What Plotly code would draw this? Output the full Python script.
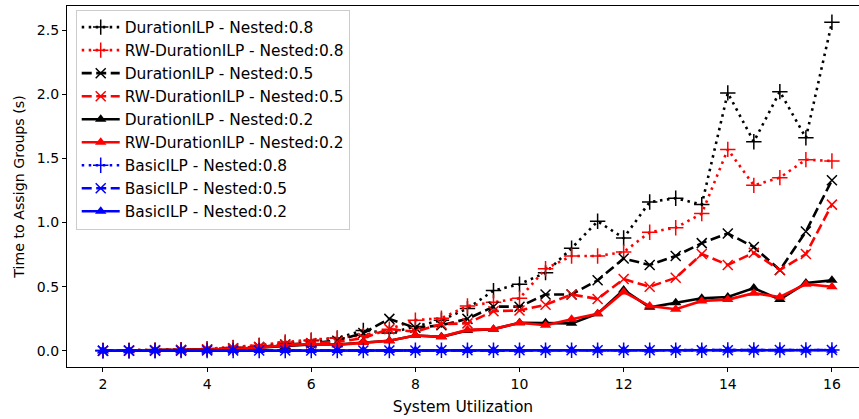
import plotly.graph_objects as go

x_vals = [2, 2.5, 3, 3.5, 4, 4.5, 5, 5.5, 6, 6.5, 7, 7.5, 8, 8.5, 9, 9.5, 10,
          10.5, 11, 11.5, 12, 12.5, 13, 13.5, 14, 14.5, 15, 15.5, 16]

dur_08 = [0.003, 0.004, 0.006, 0.010, 0.015, 0.025, 0.040, 0.060, 0.080, 0.100, 0.160, 0.140, 0.190, 0.240, 0.330,
          0.470, 0.520, 0.610, 0.800, 1.010, 0.880, 1.160, 1.190, 1.140, 2.010, 1.630, 2.020, 1.660, 2.560]
rw_08 = [0.003, 0.004, 0.006, 0.010, 0.016, 0.028, 0.045, 0.070, 0.085, 0.100, 0.120, 0.170, 0.240, 0.255, 0.350,
         0.380, 0.410, 0.640, 0.740, 0.740, 0.770, 0.925, 0.960, 1.070, 1.570, 1.290, 1.350, 1.490, 1.480]
dur_05 = [0.002, 0.003, 0.005, 0.008, 0.012, 0.020, 0.030, 0.050, 0.060, 0.080, 0.140, 0.250, 0.180, 0.200, 0.250,
          0.345, 0.345, 0.440, 0.440, 0.550, 0.720, 0.670, 0.740, 0.840, 0.915, 0.810, 0.630, 0.930, 1.330]
rw_05 = [0.002, 0.003, 0.005, 0.008, 0.012, 0.020, 0.030, 0.050, 0.060, 0.070, 0.100, 0.170, 0.150, 0.210, 0.215,
         0.310, 0.315, 0.360, 0.440, 0.405, 0.560, 0.500, 0.570, 0.755, 0.670, 0.765, 0.630, 0.755, 1.140]
dur_02 = [0.002, 0.003, 0.004, 0.006, 0.010, 0.015, 0.025, 0.035, 0.050, 0.050, 0.065, 0.080, 0.120, 0.110, 0.160,
          0.170, 0.220, 0.220, 0.215, 0.290, 0.475, 0.340, 0.376, 0.410, 0.420, 0.490, 0.400, 0.530, 0.550]
rw_02 = [0.002, 0.003, 0.004, 0.006, 0.010, 0.015, 0.030, 0.040, 0.055, 0.047, 0.065, 0.080, 0.120, 0.110, 0.164,
         0.170, 0.220, 0.200, 0.247, 0.290, 0.460, 0.350, 0.325, 0.390, 0.400, 0.450, 0.420, 0.520, 0.500]
basic_08 = [0.002, 0.002, 0.002, 0.003, 0.003, 0.003, 0.003, 0.004, 0.004, 0.004, 0.004, 0.004, 0.005, 0.005, 0.005,
            0.005, 0.005, 0.005, 0.006, 0.006, 0.006, 0.006, 0.006, 0.006, 0.007, 0.007, 0.007, 0.007, 0.008]
basic_05 = [0.002, 0.002, 0.002, 0.002, 0.003, 0.003, 0.003, 0.003, 0.004, 0.004, 0.004, 0.004, 0.004, 0.005, 0.005,
            0.005, 0.005, 0.005, 0.005, 0.006, 0.006, 0.006, 0.006, 0.006, 0.006, 0.007, 0.007, 0.007, 0.007]
basic_02 = [0.002, 0.002, 0.002, 0.002, 0.002, 0.003, 0.003, 0.003, 0.003, 0.003, 0.004, 0.004, 0.004, 0.004, 0.004,
            0.004, 0.005, 0.005, 0.005, 0.005, 0.005, 0.005, 0.005, 0.006, 0.006, 0.006, 0.006, 0.006, 0.006]

series_names = [
    "DurationILP - Nested:0.8", "RW-DurationILP - Nested:0.8",
    "DurationILP - Nested:0.5", "RW-DurationILP - Nested:0.5",
    "DurationILP - Nested:0.2", "RW-DurationILP - Nested:0.2",
    "BasicILP - Nested:0.8", "BasicILP - Nested:0.5", "BasicILP - Nested:0.2",
]
series_values = [dur_08, rw_08, dur_05, rw_05, dur_02, rw_02, basic_08, basic_05, basic_02]

DOT = "2.5px,4.5px"
DASH = "10px,4.5px"
styles = [
    ("black", DOT, "cross-thin"),
    ("red", DOT, "cross-thin"),
    ("black", DASH, "x-thin"),
    ("red", DASH, "x-thin"),
    ("black", "solid", "triangle-up"),
    ("red", "solid", "triangle-up"),
    ("blue", DOT, "cross-thin"),
    ("blue", DASH, "x-thin"),
    ("blue", "solid", "triangle-up"),
]

fig = go.Figure()
for i, (name, vals, (col, dash, sym)) in enumerate(zip(series_names, series_values, styles)):
    if sym == "triangle-up":
        marker = dict(symbol=sym, size=10, color=col, line=dict(width=0))
    elif sym == "cross-thin":
        marker = dict(symbol=sym, size=11, color=col, line=dict(width=1.5, color=col))
    else:
        marker = dict(symbol=sym, size=10, color=col, line=dict(width=1.5, color=col))
    fig.add_trace(go.Scatter(
        x=x_vals, y=vals, name=name, mode="lines+markers",
        line=dict(color=col, width=2.6, dash=dash),
        marker=marker, legendgroup=f"g{i}",
    ))

fig.update_layout(
    width=859, height=419,
    margin=dict(l=67, r=0, t=6, b=52),
    paper_bgcolor="white", plot_bgcolor="white",
    font=dict(family="DejaVu Sans", size=14, color="black"),
    showlegend=True,
    legend=dict(
        x=0.011, y=0.99, xanchor="left", yanchor="top",
        bgcolor="rgba(255,255,255,0.85)", bordercolor="#cccccc", borderwidth=1,
        font=dict(family="DejaVu Sans", size=15.4, color="black"),
        tracegroupgap=0, itemwidth=38,
    ),
    xaxis=dict(
        range=[1.309, 16.52], tickmode="array", tickvals=[2, 4, 6, 8, 10, 12, 14, 16],
        showgrid=False, zeroline=False, showline=True, linecolor="black", linewidth=1.2,
        mirror=True, ticks="outside", ticklen=4, tickcolor="black",
        tickfont=dict(size=14),
        title=dict(text="System Utilization", standoff=10, font=dict(size=15.5)),
    ),
    yaxis=dict(
        range=[-0.125, 2.687], tickmode="array", tickvals=[0, 0.5, 1.0, 1.5, 2.0, 2.5],
        ticktext=["0.0", "0.5", "1.0", "1.5", "2.0", "2.5"],
        showgrid=False, zeroline=False, showline=True, linecolor="black", linewidth=1.2,
        ticks="outside", ticklen=4, tickcolor="black",
        tickfont=dict(size=14),
        title=dict(text="Time to Assign Groups (s)", standoff=8, font=dict(size=14.2)),
    ),
)

fig.write_html("out.html", config={"displayModeBar": False},
               post_script="document.body.style.margin='0';")
